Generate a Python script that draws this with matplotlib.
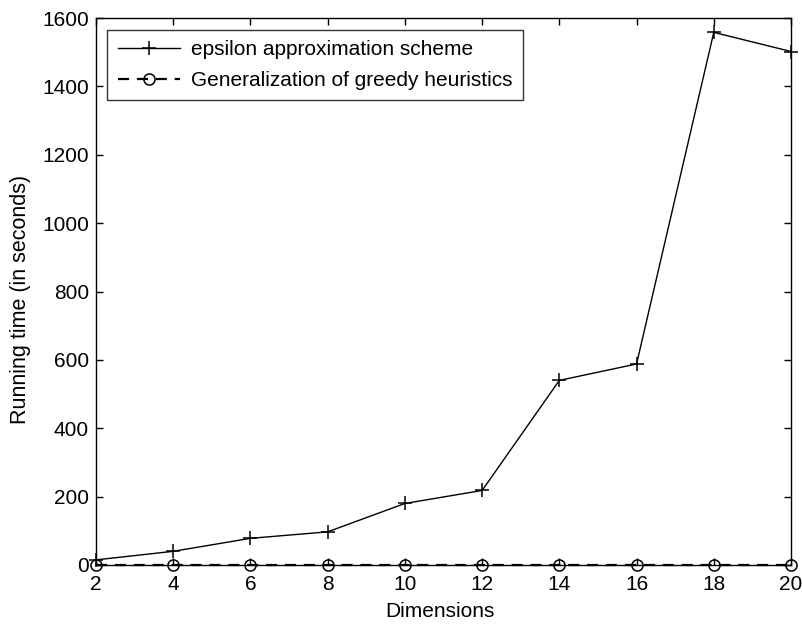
import matplotlib
matplotlib.use("Agg")
import matplotlib.pyplot as plt

dimensions = [2, 4, 6, 8, 10, 12, 14, 16, 18, 20]
epsilon_time = [15, 40, 78, 97, 180, 218, 540, 588, 1558, 1502]
greedy_time = [0.5, 0.5, 0.5, 0.5, 0.5, 0.5, 0.5, 0.5, 0.5, 0.5]

x_ticks = [2, 4, 6, 8, 10, 12, 14, 16, 18, 20]
y_ticks = [0, 200, 400, 600, 800, 1000, 1200, 1400, 1600]

plt.rcParams['font.family'] = ['Liberation Sans', 'DejaVu Sans']

fig = plt.figure(figsize=(8.02, 6.24), dpi=100)
ax = fig.add_axes([96 / 802, 1 - 565 / 624, (791 - 96) / 802, (565 - 18) / 624])

ax.plot(dimensions, epsilon_time, color='black', linewidth=1.0,
        marker='+', markersize=10, markeredgewidth=1.1,
        label='epsilon approximation scheme', clip_on=False, zorder=3)
ax.plot(dimensions, greedy_time, color='black', linewidth=1.6,
        linestyle=(0, (5, 3.5)), marker='o', markersize=8,
        markerfacecolor='none', markeredgewidth=1.1,
        label='Generalization of greedy heuristics', clip_on=False, zorder=3)

ax.set_xlim(2, 20)
ax.set_ylim(0, 1600)
ax.set_xticks(x_ticks)
ax.set_yticks(y_ticks)
ax.tick_params(direction='in', length=5, width=1, labelsize=15,
               top=True, right=True)
ax.tick_params(axis='x', pad=7)
ax.tick_params(axis='y', pad=5)
for s in ax.spines.values():
    s.set_linewidth(1.0)

ax.set_xlabel('Dimensions', fontsize=15, va='top')
ax.xaxis.set_label_coords(0.495, -0.068)
ax.set_ylabel('Running time (in seconds)', fontsize=15.5, va='center')
ax.yaxis.set_label_coords(-0.108, 0.485)

leg = ax.legend(loc='upper left', bbox_to_anchor=(0.016, 0.978),
                fontsize=15, frameon=True, fancybox=False,
                edgecolor='black', handlelength=3.0, borderpad=0.5,
                labelspacing=0.55, handletextpad=0.55, borderaxespad=0)
leg.get_frame().set_linewidth(1.0)

fig.savefig('out.png', dpi=100)
